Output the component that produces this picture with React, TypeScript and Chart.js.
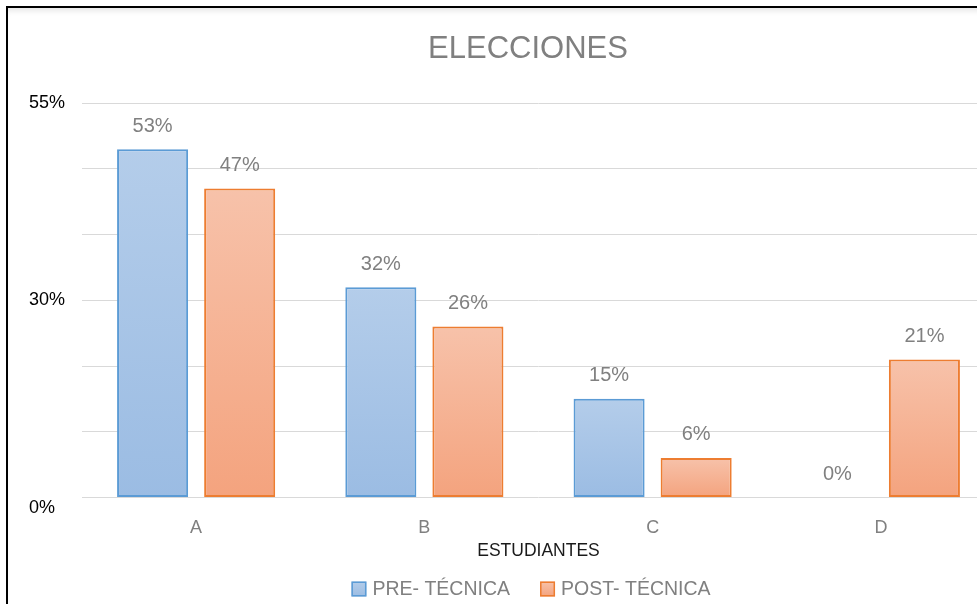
import React, { useEffect, useRef } from "react";
import { Chart, registerables } from "chart.js";

Chart.register(...registerables);

const categories = ["A", "B", "C", "D"];
const preValues = [53, 32, 15, 0];
const postValues = [47, 26, 6, 21];
const seriesNames = ["PRE- TÉCNICA", "POST- TÉCNICA"];
const yTickLabels = ["0%", "", "", "30%", "", "", "55%"];
const yStep = 10;
const yMax = 60;
const chartTitle = "ELECCIONES";
const xAxisTitle = "ESTUDIANTES";

const FONT = "'Liberation Sans', Arial, sans-serif";

const seriesColors = [
  { top: "#b4cdea", bottom: "#9bbce3", border: "#5b9bd5" },
  { top: "#f7c2aa", bottom: "#f4a37e", border: "#ed7d31" },
];

function barFill(ctx: any, colors: { top: string; bottom: string }) {
  const chart = ctx.chart;
  if (!chart.chartArea || ctx.type !== "data") return colors.bottom;
  const ys = chart.scales.y;
  const top = ys.getPixelForValue(ctx.raw);
  const bottom = ys.getPixelForValue(0);
  if (!isFinite(top) || !isFinite(bottom) || bottom - top < 1) return colors.bottom;
  const g = chart.ctx.createLinearGradient(0, top, 0, bottom);
  g.addColorStop(0, colors.top);
  g.addColorStop(1, colors.bottom);
  return g;
}

const valueLabels = {
  id: "valueLabels",
  afterDatasetsDraw(chart: any) {
    const ctx = chart.ctx;
    ctx.save();
    ctx.font = `20px ${FONT}`;
    ctx.fillStyle = "#808080";
    ctx.textAlign = "center";
    ctx.textBaseline = "middle";
    chart.data.datasets.forEach((ds: any, i: number) => {
      chart.getDatasetMeta(i).data.forEach((el: any, j: number) => {
        ctx.fillText(`${ds.data[j]}%`, el.x, el.y - 23);
      });
    });
    ctx.restore();
  },
};

const bottomLegend = {
  id: "bottomLegend",
  afterDraw(chart: any) {
    const ctx = chart.ctx;
    const tb = chart.titleBlock;
    const cx = tb ? (tb.left + tb.right) / 2 + 3 : chart.width / 2;
    const cy = chart.height - 15;
    const box = 15;
    const boxGap = 6;
    const itemGap = 30;
    ctx.save();
    ctx.font = `19.5px ${FONT}`;
    const widths = chart.data.datasets.map((ds: any) => ctx.measureText(ds.label).width);
    const total =
      widths.reduce((a: number, w: number) => a + box + boxGap + w, 0) +
      itemGap * (widths.length - 1);
    let x = cx - total / 2;
    chart.data.datasets.forEach((ds: any, i: number) => {
      const c = seriesColors[i];
      const g = ctx.createLinearGradient(0, cy - box / 2, 0, cy + box / 2);
      g.addColorStop(0, c.top);
      g.addColorStop(1, c.bottom);
      ctx.fillStyle = g;
      ctx.fillRect(x, cy - box / 2, box, box);
      ctx.strokeStyle = c.border;
      ctx.lineWidth = 1.5;
      ctx.strokeRect(x + 0.75, cy - box / 2 + 0.75, box - 1.5, box - 1.5);
      ctx.fillStyle = "#808080";
      ctx.textAlign = "left";
      ctx.textBaseline = "middle";
      ctx.fillText(ds.label, x + box + boxGap, cy + 1);
      x += box + boxGap + widths[i] + itemGap;
    });
    ctx.restore();
  },
};

export default function App() {
  const canvasRef = useRef<HTMLCanvasElement | null>(null);

  useEffect(() => {
    if (!canvasRef.current) return;
    const chart = new Chart(canvasRef.current, {
      type: "bar",
      data: {
        labels: categories,
        datasets: [
          {
            label: seriesNames[0],
            data: preValues,
            backgroundColor: (c: any) => barFill(c, seriesColors[0]),
            borderColor: seriesColors[0].border,
            borderWidth: 2,
            borderSkipped: false,
          },
          {
            label: seriesNames[1],
            data: postValues,
            backgroundColor: (c: any) => barFill(c, seriesColors[1]),
            borderColor: seriesColors[1].border,
            borderWidth: 2,
            borderSkipped: false,
          },
        ],
      },
      options: {
        responsive: false,
        animation: false,
        devicePixelRatio: 1,
        categoryPercentage: 0.763,
        barPercentage: 0.816,
        layout: { padding: { left: 21, right: 0, top: 0, bottom: 29 } },
        plugins: {
          legend: { display: false },
          tooltip: { enabled: false },
          title: {
            display: true,
            text: chartTitle,
            color: "#808080",
            font: { family: FONT, size: 31, weight: "normal" },
            padding: { top: 23, bottom: 35 },
          },
        },
        scales: {
          x: {
            grid: { display: false, drawTicks: false },
            border: { display: false },
            ticks: {
              color: "#808080",
              font: { family: FONT, size: 18 },
              padding: 20,
            },
            title: {
              display: true,
              text: xAxisTitle,
              color: "#1a1a1a",
              font: { family: FONT, size: 17.5 },
              padding: { top: -18, bottom: 13 },
            },
          },
          y: {
            min: 0,
            max: yMax,
            grid: { color: "#d9d9d9", lineWidth: 1, drawTicks: false },
            border: { display: false },
            ticks: {
              stepSize: yStep,
              color: "#000000",
              font: { family: FONT, size: 18 },
              crossAlign: "far",
              padding: 0,
              callback: (v: any) => {
                const l = yTickLabels[Math.round(Number(v) / yStep)] ?? "";
                return Number(v) === 0 ? ["", l] : l;
              },
            },
            afterFit: (s: any) => {
              s.width = 53;
            },
          },
          y2: {
            position: "right",
            display: true,
            grid: { display: false, drawTicks: false },
            border: { display: false },
            ticks: { display: false },
            afterFit: (s: any) => {
              s.width = 32;
            },
          },
        },
      } as any,
      plugins: [valueLabels, bottomLegend],
    });
    return () => chart.destroy();
  }, []);

  return (
    <div
      style={{
        position: "fixed",
        left: 0,
        top: 0,
        width: 977,
        height: 604,
        overflow: "hidden",
        background: "#ffffff",
      }}
    >
      <div
        style={{
          position: "absolute",
          left: 6,
          top: 6,
          width: 1030,
          height: 620,
          borderLeft: "2px solid #000",
          borderTop: "2px solid #000",
          boxShadow: "inset 0 6px 6px -4px rgba(0,0,0,0.12)",
        }}
      >
        <canvas
          ref={canvasRef}
          width={1019}
          height={596}
          style={{ display: "block", width: 1019, height: 596 }}
        />
      </div>
    </div>
  );
}
